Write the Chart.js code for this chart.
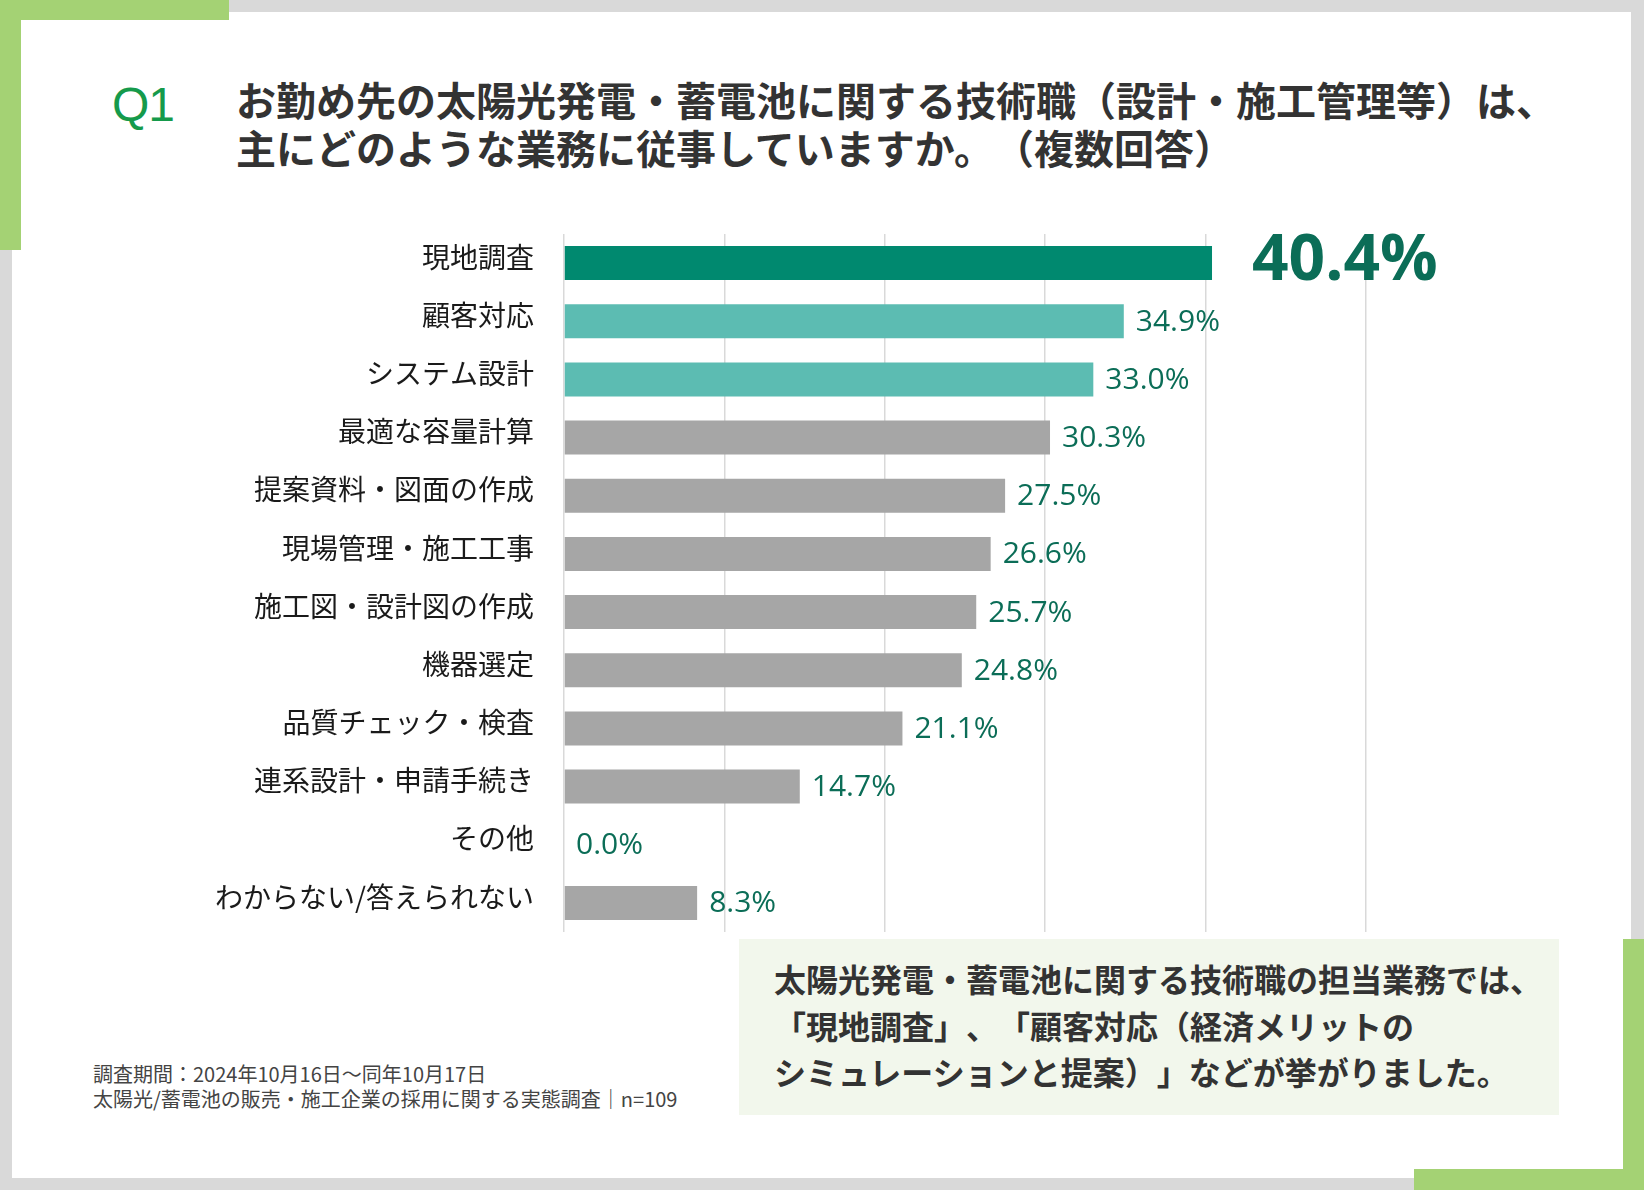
<!DOCTYPE html>
<html lang="ja">
<head>
<meta charset="utf-8">
<script src="https://cdn.jsdelivr.net/npm/chart.js@4.4.1/dist/chart.umd.min.js"></script>
<style>
  html, body { margin: 0; padding: 0; }
  body { width: 1644px; height: 1190px; background: #d9d9d9; position: relative; overflow: hidden; font-family: "Noto Sans CJK JP", "Noto Sans", sans-serif; text-spacing-trim: space-all; }
  .card { position: absolute; left: 12px; top: 12px; width: 1619px; height: 1166px; background: #fff; }
  .green { position: absolute; background: #a4d274; }
  .q { position: absolute; left: 112px; top: 81px; font: 48px/48px "Liberation Sans", Arial, sans-serif; color: #159a4b; letter-spacing: -1px; }
  .title { position: absolute; left: 236px; top: 75px; font-size: 40px; line-height: 48px; font-weight: 700; color: #333; white-space: nowrap; }
  .note { position: absolute; left: 93px; top: 1061px; font-size: 20px; line-height: 25px; color: #444; white-space: nowrap; }
  .summary { position: absolute; left: 739px; top: 939px; width: 820px; height: 176px; background: #f2f7ec; box-sizing: border-box; padding: 16px 0 0 35px; font-size: 32px; line-height: 46.5px; font-weight: 700; color: #333; white-space: nowrap; }
  .chartbox { position: absolute; left: 150px; top: 220px; width: 1330px; height: 725px; }
</style>
</head>
<body>
<div class="card"></div>
<div class="green" style="left:0;top:0;width:229px;height:20px"></div>
<div class="green" style="left:0;top:0;width:21px;height:250px"></div>
<div class="green" style="left:1623px;top:939px;width:21px;height:251px"></div>
<div class="green" style="left:1414px;top:1169px;width:230px;height:21px"></div>

<div class="q">Q1</div>
<div class="title">お勤め先の太陽光発電・蓄電池に関する技術職（設計・施工管理等）は、<br>主にどのような業務に従事していますか。（複数回答）</div>

<div class="chartbox"><canvas id="chart"></canvas></div>

<div class="summary">太陽光発電・蓄電池に関する技術職の担当業務では、<br>「現地調査」、「顧客対応（経済メリットの<br>シミュレーションと提案）」などが挙がりました。</div>

<div class="note">調査期間：2024年10月16日〜同年10月17日<br>太陽光/蓄電池の販売・施工企業の採用に関する実態調査｜n=109</div>

<script>
// データ
const categories = [
  '現地調査', '顧客対応', 'システム設計', '最適な容量計算',
  '提案資料・図面の作成', '現場管理・施工工事', '施工図・設計図の作成', '機器選定',
  '品質チェック・検査', '連系設計・申請手続き', 'その他', 'わからない/答えられない'
];
const values = [40.4, 34.9, 33.0, 30.3, 27.5, 26.6, 25.7, 24.8, 21.1, 14.7, 0.0, 8.3];
const axisTicks = [0, 10, 20, 30, 40, 50];

// 色: 1位は濃い緑、2-3位は薄い緑、残りはグレー
const barColors = values.map((v, i) => i === 0 ? '#00896f' : (i < 3 ? '#5cbcb2' : '#a6a6a6'));
const labelColor = '#0b6d57';

// バーの右に%を描く
const valueLabels = {
  id: 'valueLabels',
  afterDatasetsDraw(chart) {
    const ctx = chart.ctx;
    const meta = chart.getDatasetMeta(0);
    ctx.save();
    ctx.fillStyle = labelColor;
    ctx.textBaseline = 'middle';
    ctx.textAlign = 'left';
    meta.data.forEach((bar, i) => {
      const txt = values[i].toFixed(1) + '%';
      if (i === 0) {
        ctx.font = '700 64px "Open Sans", sans-serif';
        ctx.fillText(txt, bar.x + 40, bar.y - 1);
      } else {
        ctx.font = '400 30px "Open Sans", sans-serif';
        ctx.fillText(txt, bar.x + 12, bar.y + 1);
      }
    });
    ctx.restore();
  }
};

new Chart(document.getElementById('chart').getContext('2d'), {
  type: 'bar',
  data: {
    labels: categories,
    datasets: [{
      data: values,
      backgroundColor: barColors,
      borderWidth: 0,
      barPercentage: 0.585,
      categoryPercentage: 1
    }]
  },
  options: {
    indexAxis: 'y',
    responsive: true,
    maintainAspectRatio: false,
    animation: false,
    layout: { padding: { top: 14, bottom: 13, left: 0, right: 114 } },
    plugins: { legend: { display: false }, tooltip: { enabled: false } },
    scales: {
      x: {
        min: axisTicks[0],
        max: axisTicks[axisTicks.length - 1],
        afterBuildTicks: (s) => { s.ticks = axisTicks.map(v => ({ value: v })); },
        ticks: { display: false },
        grid: { color: '#d9d9d9', lineWidth: 1.5, drawTicks: false },
        border: { display: false },
        afterFit: (s) => { s.height = 0; s.paddingLeft = 0; s.paddingRight = 0; }
      },
      y: {
        grid: { display: false },
        border: { display: false },
        ticks: {
          autoSkip: false,
          padding: 22,
          labelOffset: -6,
          color: '#1a1a1a',
          font: { family: '"Noto Sans CJK JP", sans-serif', size: 28 }
        },
        afterFit: (s) => { s.width = 414; s.paddingTop = 0; s.paddingBottom = 0; }
      }
    }
  },
  plugins: [valueLabels]
});
</script>
</body>
</html>
